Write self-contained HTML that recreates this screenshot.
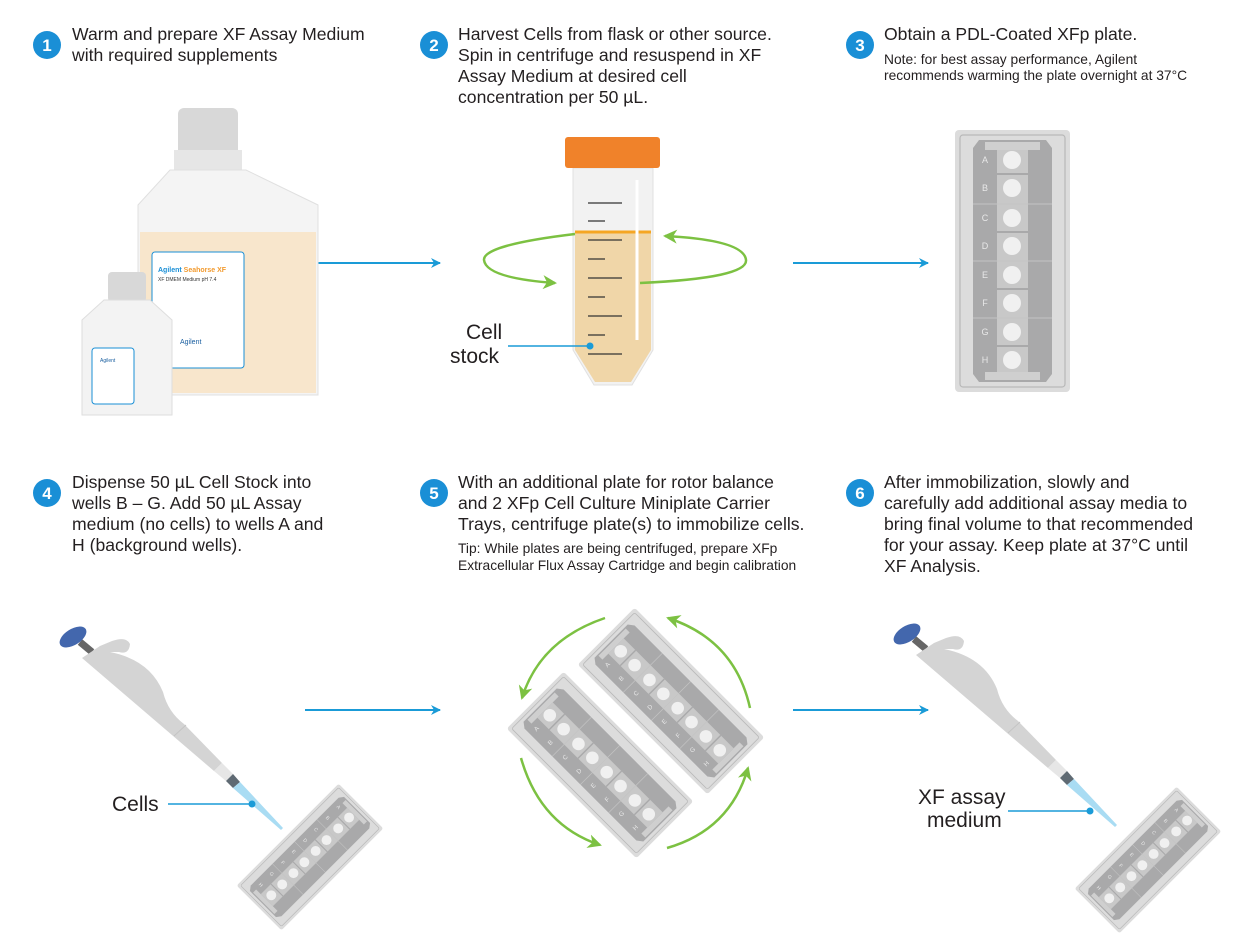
<!DOCTYPE html>
<html><head><meta charset="utf-8"><style>
body{margin:0;background:#fff;width:1240px;height:938px;overflow:hidden;font-family:"Liberation Sans",sans-serif}
svg{display:block}
.t{font-size:17.6px;fill:#231f20}
.s{font-size:13.8px;fill:#231f20}
.n{font-size:17px;fill:#fff;font-weight:bold}
.lab{font-size:21px;fill:#231f20}
</style></head><body>
<svg width="1240" height="938" viewBox="0 0 1240 938">
<defs>
<marker id="ab" markerWidth="10" markerHeight="10" refX="9" refY="5" orient="auto" markerUnits="userSpaceOnUse"><path d="M0,0 L10,5 L0,10 L3,5z" fill="#1a9bd7"/></marker>
<marker id="ag" markerWidth="16" markerHeight="16" refX="12" refY="8" orient="auto" markerUnits="userSpaceOnUse"><path d="M0,1 L14,8 L0,15 L4,8z" fill="#7cc142"/></marker>
<g id="plate">
<rect x="0" y="0" width="115" height="262" rx="4" fill="#dcdcdc"/>
<rect x="5" y="5" width="105" height="252" rx="3" fill="none" stroke="#b8b8b8" stroke-width="1.2"/>
<path d="M24,10 L91,10 L97,18 L97,244 L91,252 L24,252 L18,244 L18,18z" fill="#a9a9aa"/>
<rect x="30" y="12" width="55" height="8" fill="#cfcfcf"/>
<rect x="30" y="242" width="55" height="8" fill="#cfcfcf"/>
<rect x="42" y="20" width="31" height="222" fill="#c8c8c8"/>
<g stroke="#a9a9aa" stroke-width="2"><line x1="42" y1="44" x2="73" y2="44"/><line x1="42" y1="102" x2="73" y2="102"/><line x1="42" y1="159" x2="73" y2="159"/><line x1="42" y1="216" x2="73" y2="216"/></g>
<g stroke="#c4c4c4" stroke-width="1"><line x1="18" y1="74" x2="97" y2="74"/><line x1="18" y1="131" x2="97" y2="131"/><line x1="18" y1="188" x2="97" y2="188"/></g>
<g fill="#f0f0f0"><circle cx="57" cy="30" r="9"/><circle cx="57" cy="58" r="9"/><circle cx="57" cy="88" r="9"/><circle cx="57" cy="116" r="9"/><circle cx="57" cy="145" r="9"/><circle cx="57" cy="173" r="9"/><circle cx="57" cy="202" r="9"/><circle cx="57" cy="230" r="9"/></g>
<g font-size="9" fill="#e8e8e8" text-anchor="middle"><text x="30" y="33">A</text><text x="30" y="61">B</text><text x="30" y="91">C</text><text x="30" y="119">D</text><text x="30" y="148">E</text><text x="30" y="176">F</text><text x="30" y="205">G</text><text x="30" y="233">H</text></g>
</g>
<g id="pip">
<line x1="80" y1="642" x2="92" y2="652" stroke="#666" stroke-width="7"/>
<ellipse cx="73" cy="637" rx="15" ry="8" fill="#4367ad" transform="rotate(-32 73 637)"/>
<path d="M82,658 L100,646 L112,641 Q126,636 130,644 Q129,655 119,652 L110,652 Q150,660 163,692 Q168,712 184,724 L222,763 L214,771 Z" fill="#d4d4d4"/>
<line x1="174" y1="736" x2="186" y2="725" stroke="#c4c4c4" stroke-width="1"/>
<path d="M214,771 L222,763 L233,774 L226,781 Z" fill="#e6e6e6"/>
<path d="M226,781 L233,774 L240,782 L233,788 Z" fill="#5f6a73"/>
<path d="M233,788 L240,782 L283,828 L281,830 Z" fill="#a9dcf3"/>
</g>
</defs>

<g>
<circle cx="47" cy="45" r="14" fill="#1a8fd6"/><text class="n" x="47" y="51" text-anchor="middle">1</text>
<text class="t" x="72" y="40">Warm and prepare XF Assay Medium</text>
<text class="t" x="72" y="61">with required supplements</text>

<circle cx="434" cy="45" r="14" fill="#1a8fd6"/><text class="n" x="434" y="51" text-anchor="middle">2</text>
<text class="t" x="458" y="40">Harvest Cells from flask or other source.</text>
<text class="t" x="458" y="61">Spin in centrifuge and resuspend in XF</text>
<text class="t" x="458" y="82">Assay Medium at desired cell</text>
<text class="t" x="458" y="103">concentration per 50 µL.</text>

<circle cx="860" cy="45" r="14" fill="#1a8fd6"/><text class="n" x="860" y="51" text-anchor="middle">3</text>
<text class="t" x="884" y="40">Obtain a PDL-Coated XFp plate.</text>
<text class="s" x="884" y="64">Note: for best assay performance, Agilent</text>
<text class="s" x="884" y="80">recommends warming the plate overnight at 37°C</text>

<circle cx="47" cy="493" r="14" fill="#1a8fd6"/><text class="n" x="47" y="499" text-anchor="middle">4</text>
<text class="t" x="72" y="488">Dispense 50 µL Cell Stock into</text>
<text class="t" x="72" y="509">wells B – G. Add 50 µL Assay</text>
<text class="t" x="72" y="530">medium (no cells) to wells A and</text>
<text class="t" x="72" y="551">H (background wells).</text>

<circle cx="434" cy="493" r="14" fill="#1a8fd6"/><text class="n" x="434" y="499" text-anchor="middle">5</text>
<text class="t" x="458" y="488">With an additional plate for rotor balance</text>
<text class="t" x="458" y="509">and 2 XFp Cell Culture Miniplate Carrier</text>
<text class="t" x="458" y="530">Trays, centrifuge plate(s) to immobilize cells.</text>
<text class="s" x="458" y="553">Tip: While plates are being centrifuged, prepare XFp</text>
<text class="s" x="458" y="570">Extracellular Flux Assay Cartridge and begin calibration</text>

<circle cx="860" cy="493" r="14" fill="#1a8fd6"/><text class="n" x="860" y="499" text-anchor="middle">6</text>
<text class="t" x="884" y="488">After immobilization, slowly and</text>
<text class="t" x="884" y="509">carefully add additional assay media to</text>
<text class="t" x="884" y="530">bring final volume to that recommended</text>
<text class="t" x="884" y="551">for your assay. Keep plate at 37°C until</text>
<text class="t" x="884" y="572">XF Analysis.</text>
</g>

<g stroke="#1a9bd7" stroke-width="2" fill="none">
<line x1="305" y1="263" x2="440" y2="263" marker-end="url(#ab)"/>
<line x1="793" y1="263" x2="928" y2="263" marker-end="url(#ab)"/>
<line x1="305" y1="710" x2="440" y2="710" marker-end="url(#ab)"/>
<line x1="793" y1="710" x2="928" y2="710" marker-end="url(#ab)"/>
</g>

<g>
<rect x="178" y="108" width="60" height="52" rx="6" fill="#d8d8d8"/>
<rect x="174" y="150" width="68" height="20" fill="#e6e6e6"/>
<path d="M170,170 L246,170 L318,205 L318,395 L138,395 L138,205 Z" fill="#f4f4f4" stroke="#e0e0e0"/>
<path d="M140,232 L316,232 L316,393 L140,393 Z" fill="#f8e6cc"/>
<rect x="152" y="252" width="92" height="116" rx="3" fill="#fff" stroke="#1a8fd6"/>
<text x="158" y="272" font-size="7" fill="#1a8fd6" font-weight="bold">Agilent <tspan fill="#f29a2e">Seahorse XF</tspan></text>
<text x="158" y="281" font-size="5" fill="#333">XF DMEM Medium pH 7.4</text>
<text x="180" y="344" font-size="7" fill="#1a5fa0">Agilent</text>
<rect x="108" y="272" width="38" height="30" rx="4" fill="#d8d8d8"/>
<path d="M104,300 L150,300 L172,320 L172,415 L82,415 L82,320 Z" fill="#f3f3f3" stroke="#dedede"/>
<rect x="92" y="348" width="42" height="56" rx="3" fill="#fff" stroke="#1a8fd6"/>
<text x="100" y="362" font-size="5" fill="#1a5fa0">Agilent</text>
</g>

<g>
<path d="M573,168 L653,168 L653,350 L632,385 L594,385 L573,350 Z" fill="#f2f2f2" stroke="#e0e0e0"/>
<path d="M575,232 L651,232 L651,350 L631,382 L595,382 L575,350 Z" fill="#f0d6a8"/>
<line x1="575" y1="232" x2="651" y2="232" stroke="#f5a623" stroke-width="3"/>
<rect x="565" y="137" width="95" height="31" rx="3" fill="#f0822a"/>
<g stroke="#333" stroke-width="1.2">
<line x1="588" y1="203" x2="622" y2="203"/><line x1="588" y1="221" x2="605" y2="221"/>
<line x1="588" y1="240" x2="622" y2="240"/><line x1="588" y1="259" x2="605" y2="259"/>
<line x1="588" y1="278" x2="622" y2="278"/><line x1="588" y1="297" x2="605" y2="297"/>
<line x1="588" y1="316" x2="622" y2="316"/><line x1="588" y1="335" x2="605" y2="335"/>
<line x1="588" y1="354" x2="622" y2="354"/>
</g>
<line x1="637" y1="180" x2="637" y2="340" stroke="#fff" stroke-width="3"/>
<g stroke="#7cc142" stroke-width="2.5" fill="none">
<path d="M575,234 Q483,245 484,260 Q486,278 555,283" marker-end="url(#ag)"/>
<path d="M640,283 Q748,278 746,260 Q744,240 665,236" marker-end="url(#ag)"/>
</g>
<text class="lab" x="466" y="339">Cell</text>
<text class="lab" x="450" y="363">stock</text>
<line x1="508" y1="346" x2="590" y2="346" stroke="#1a9bd7" stroke-width="1.5"/>
<circle cx="590" cy="346" r="3.5" fill="#1a9bd7"/>
</g>

<use href="#plate" x="955" y="130"/>

<g transform="translate(600,765) rotate(-45) scale(0.7) translate(-57.5,-131)"><use href="#plate"/></g>
<g transform="translate(671,701) rotate(-45) scale(0.7) translate(-57.5,-131)"><use href="#plate"/></g>
<g stroke="#7cc142" stroke-width="2.5" fill="none">
<path d="M605,618 Q540,640 522,698" marker-end="url(#ag)"/>
<path d="M521,758 Q540,825 600,845" marker-end="url(#ag)"/>
<path d="M667,848 Q730,830 748,768" marker-end="url(#ag)"/>
<path d="M750,708 Q735,640 668,618" marker-end="url(#ag)"/>
</g>

<use href="#pip"/>
<g transform="translate(310,857) rotate(45) scale(0.55) translate(-57.5,-131)"><use href="#plate"/></g>
<text class="lab" x="112" y="811">Cells</text>
<line x1="168" y1="804" x2="252" y2="804" stroke="#1a9bd7" stroke-width="1.5"/>
<circle cx="252" cy="804" r="3.5" fill="#1a9bd7"/>

<g transform="translate(834,-3)"><use href="#pip"/></g>
<g transform="translate(1148,860) rotate(45) scale(0.55) translate(-57.5,-131)"><use href="#plate"/></g>
<text class="lab" x="918" y="804">XF assay</text>
<text class="lab" x="927" y="827">medium</text>
<line x1="1008" y1="811" x2="1090" y2="811" stroke="#1a9bd7" stroke-width="1.5"/>
<circle cx="1090" cy="811" r="3.5" fill="#1a9bd7"/>
</svg>
</body></html>
